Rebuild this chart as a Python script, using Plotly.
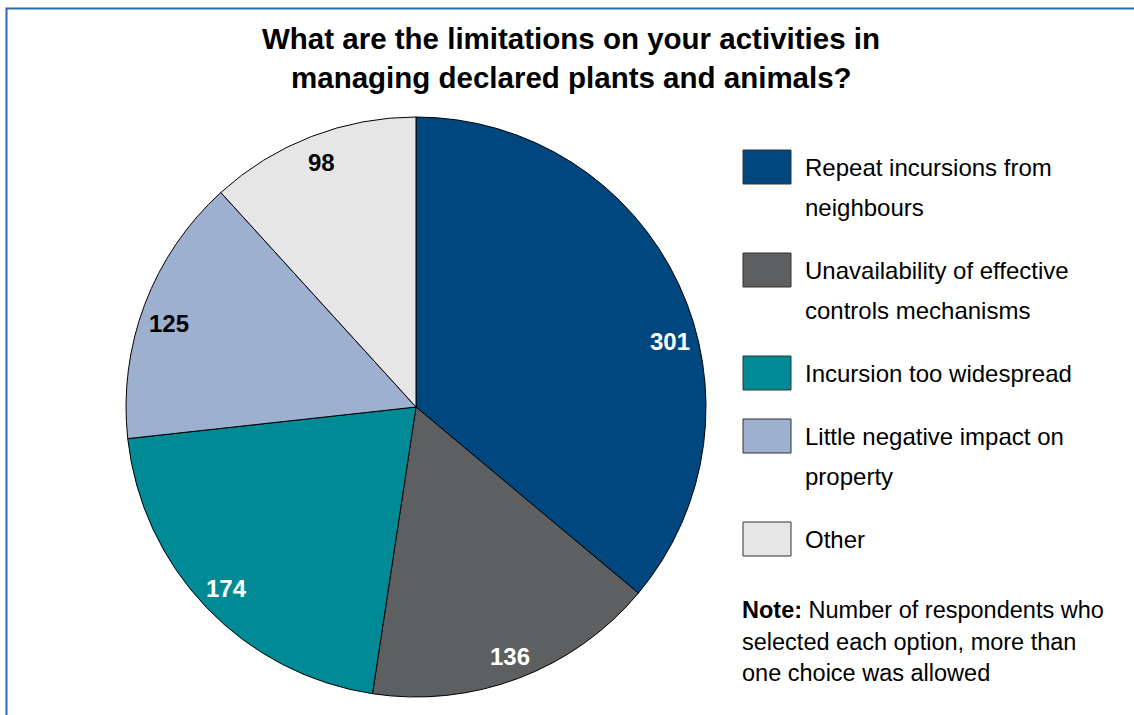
import math
import plotly.graph_objects as go

# Survey responses
categories = [
    "Repeat incursions from<br>neighbours",
    "Unavailability of effective<br>controls mechanisms",
    "Incursion too widespread",
    "Little negative impact on<br>property",
    "Other",
]
respondents = [301, 136, 174, 125, 98]
slice_colors = ["#00467F", "#5E5F61", "#008A95", "#9DB0D0", "#E6E6E6"]
label_colors = ["white", "white", "white", "black", "black"]

title_lines = ["What are the limitations on your activities in",
               "managing declared plants and animals?"]
note_lines = ["<b>Note:</b> Number of respondents who",
              "selected each option, more than",
              "one choice was allowed"]

W, H = 1134, 715
FONT = "Liberation Sans, Arial, sans-serif"

# Pie geometry (pixels)
cx, cy, R = 416, 407, 290
label_radius = [0.905, 0.92, 0.905, 0.9, 0.905]
label_nudge_deg = [10.5, 0, 0, -2, 0]

fig = go.Figure()
fig.add_trace(go.Pie(
    labels=categories,
    values=respondents,
    sort=False,
    direction="clockwise",
    rotation=0,
    marker=dict(colors=slice_colors, line=dict(color="black", width=1)),
    textinfo="none",
    hoverinfo="label+value",
    showlegend=False,
    domain=dict(x=[(cx - R) / W, (cx + R) / W],
                y=[1 - (cy + R) / H, 1 - (cy - R) / H]),
))

annotations = []
shapes = []

# Value labels placed near each slice's mid angle
total = sum(respondents)
cum = 0
for v, col, nudge, rf in zip(respondents, label_colors, label_nudge_deg, label_radius):
    mid = (cum + v / 2) / total * 360 + nudge
    cum += v
    a = math.radians(mid)
    px = cx + rf * R * math.sin(a)
    py = cy - rf * R * math.cos(a)
    annotations.append(dict(
        x=px / W, y=1 - py / H, xref="paper", yref="paper",
        text=f"<b>{v}</b>", showarrow=False,
        font=dict(family=FONT, size=24, color=col),
        xanchor="center", yanchor="middle",
    ))

# Legend: swatches with wrapped labels
sw_x0, sw_x1 = 743, 791
sw_h = 34
y_top = 150
line_h = 40
for name, col in zip(categories, slice_colors):
    parts = name.split("<br>")
    shapes.append(dict(
        type="rect", xref="paper", yref="paper",
        x0=sw_x0 / W, x1=sw_x1 / W,
        y0=1 - (y_top + sw_h) / H, y1=1 - y_top / H,
        fillcolor=col, line=dict(color="#333333", width=1),
    ))
    for i, part in enumerate(parts):
        ty = y_top + sw_h / 2 + i * line_h
        annotations.append(dict(
            x=803 / W, y=1 - ty / H, xref="paper", yref="paper",
            text=part, showarrow=False, xanchor="left", yanchor="middle",
            font=dict(family=FONT, size=24, color="black"),
        ))
    y_top += sw_h + 29 + (len(parts) - 1) * line_h

# Note below legend
for i, part in enumerate(note_lines):
    ty = 610 + i * 31.5
    annotations.append(dict(
        x=740 / W, y=1 - ty / H, xref="paper", yref="paper",
        text=part, showarrow=False, xanchor="left", yanchor="middle",
        font=dict(family=FONT, size=23.5, color="black"),
    ))

# Title
for i, part in enumerate(title_lines):
    ty = 38 + i * 39
    annotations.append(dict(
        x=571 / W, y=1 - ty / H, xref="paper", yref="paper",
        text=f"<b>{part}</b>", showarrow=False, xanchor="center", yanchor="middle",
        font=dict(family=FONT, size=29.5, color="black"),
    ))

# Frame around the chart
shapes.append(dict(
    type="rect", xref="paper", yref="paper",
    x0=6.5 / W, x1=1.2, y0=-0.2, y1=1 - 8.5 / H,
    line=dict(color="#2E6BA6", width=2), fillcolor="rgba(0,0,0,0)",
    layer="above",
))

fig.update_layout(
    width=W, height=H,
    margin=dict(l=0, r=0, t=0, b=0),
    paper_bgcolor="white",
    plot_bgcolor="white",
    annotations=annotations,
    shapes=shapes,
    showlegend=False,
)

fig.write_html("out.html", config={"displayModeBar": False})
